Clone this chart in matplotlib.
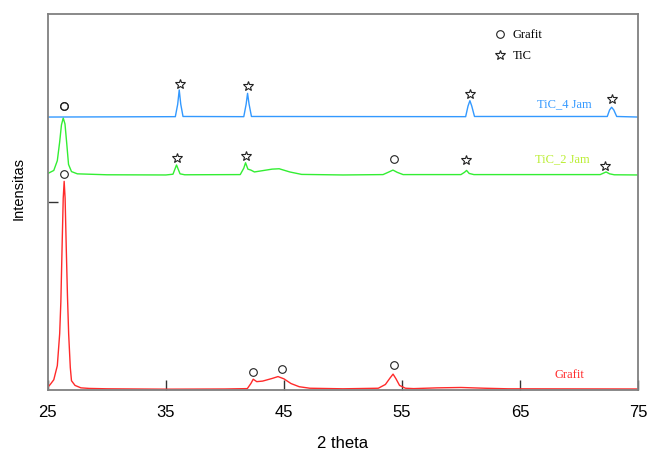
import matplotlib.pyplot as plt
from matplotlib.lines import Line2D

# data (2 theta, intensitas)
grafit_x = [25.0, 25.2, 25.5, 25.8, 26.0, 26.1, 26.2, 26.3, 26.38, 26.46, 26.56, 26.66,
            26.76, 26.9, 27.0, 27.3, 27.8, 28.5, 30.0, 35.0, 40.0, 41.9, 42.2, 42.4,
            42.7, 43.2, 44.0, 44.5, 45.0, 45.6, 46.3, 47.2, 50.0, 53.0, 53.6, 54.0,
            54.25, 54.5, 54.8, 55.3, 56.0, 58.0, 60.0, 62.0, 64.0, 75.0]
grafit_y = [16, 30, 55, 130, 300, 470, 750, 1020, 1110, 1020, 750, 500,
            300, 120, 50, 25, 12, 9, 7, 5, 6, 8, 35, 58,
            45, 48, 62, 72, 60, 35, 18, 10, 7, 10, 30, 65,
            85, 60, 25, 10, 8, 12, 14, 10, 7, 6]

tic2_x = [25.0, 25.5, 25.8, 26.0, 26.15, 26.3, 26.45, 26.6, 26.75, 27.0, 27.5, 30.0,
          35.0, 35.6, 35.9, 36.2, 36.6, 41.3, 41.6, 41.75, 41.95, 42.2, 42.5, 43.0,
          44.0, 44.6, 45.5, 46.5, 50.0, 53.4, 53.9, 54.24, 54.6, 55.1, 60.0, 60.3,
          60.48, 60.7, 61.1, 71.8, 72.3, 72.6, 73.0, 75.0]
tic2_y = [1152, 1168, 1220, 1320, 1410, 1447, 1415, 1310, 1200, 1162, 1150, 1145,
          1144, 1148, 1197, 1150, 1145, 1146, 1180, 1209, 1175, 1170, 1160, 1165,
          1175, 1177, 1160, 1147, 1144, 1146, 1160, 1170, 1158, 1146, 1146, 1158,
          1168, 1152, 1146, 1146, 1160, 1150, 1145, 1144]

tic4_x = [25.0, 35.8, 36.0, 36.13, 36.26, 36.45, 41.6, 41.8, 41.92, 42.05, 42.25,
          60.4, 60.6, 60.76, 60.92, 61.15, 72.4, 72.6, 72.77, 72.95, 73.2, 75.0]
tic4_y = [1452, 1454, 1520, 1596, 1520, 1455, 1454, 1520, 1578, 1520, 1455,
          1454, 1510, 1539, 1510, 1455, 1455, 1490, 1504, 1490, 1455, 1452]

# phase markers
grafit_mx = [26.36, 42.37, 44.83, 54.3, 26.36, 54.3, 26.36]
grafit_my = [1149, 96, 112, 133, 1511, 1229, 1511]
tic_mx = [36.2, 41.95, 60.76, 72.8, 35.93, 41.78, 60.42, 72.2]
tic_my = [1628, 1617, 1575, 1548, 1234, 1245, 1224, 1192]

fig, ax = plt.subplots(figsize=(6.47, 4.51), dpi=100)
fig.subplots_adjust(left=0.074, right=0.986, top=0.969, bottom=0.135)

ax.plot(grafit_x, grafit_y, color='#ff2a2a', lw=1)
ax.plot(tic2_x, tic2_y, color='#33ee33', lw=1)
ax.plot(tic4_x, tic4_y, color='#3399ff', lw=1)

ax.plot(grafit_mx, grafit_my, 'o', mfc='none', mec='#222222', ms=5.5, mew=0.8)
ax.plot(tic_mx, tic_my, '*', mfc='none', mec='#222222', ms=7, mew=0.8)

serif = 'Liberation Serif'
ax.text(68.8, 1521, 'TiC_4 Jam', color='#3399ff', ha='center', va='center', family=serif, fontsize=9)
ax.text(68.6, 1229, 'TiC_2 Jam', color='#bbee33', ha='center', va='center', family=serif, fontsize=9)
ax.text(69.2, 80, 'Grafit', color='#ff2a2a', ha='center', va='center', family=serif, fontsize=9)

handles = [Line2D([], [], ls='none', marker='o', mfc='none', mec='#222222', ms=5.5, mew=0.8),
           Line2D([], [], ls='none', marker='*', mfc='none', mec='#222222', ms=7, mew=0.8)]
ax.legend(handles, ['Grafit', 'TiC'], loc='upper left', bbox_to_anchor=(0.735, 0.99),
          frameon=False, prop={'family': serif, 'size': 9}, handletextpad=0.4,
          labelspacing=0.75, handlelength=1.2)

ax.set_xlim(25, 75)
ax.set_ylim(0, 2000)
ax.set_xticks([25, 35, 45, 55, 65, 75])
ax.set_yticks([1000])
ax.set_yticklabels([])
ax.tick_params(direction='in', length=7, width=1, color='#333333', labelsize=12, pad=11)
for s in ax.spines.values():
    s.set_color('#808080')
    s.set_linewidth(1.3)

ax.set_xlabel('2 theta', family='Liberation Sans', fontsize=12, labelpad=11)
ax.set_ylabel('Intensitas', family='Liberation Sans', fontsize=10.5)
ax.yaxis.set_label_coords(-0.037, 0.535)
for t in ax.get_xticklabels():
    t.set_family('Liberation Sans')

plt.savefig('out.png')
